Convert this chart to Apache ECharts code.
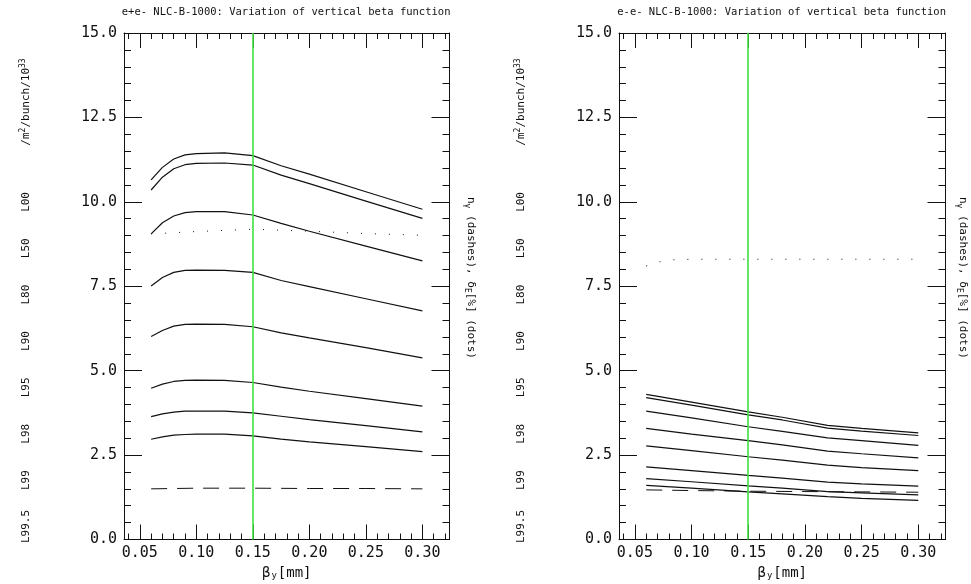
<!DOCTYPE html>
<html>
<head>
<meta charset="utf-8">
<script src="https://cdn.jsdelivr.net/npm/echarts@6/dist/echarts.min.js"></script>
<style>
html,body{margin:0;padding:0;background:#fff;}
#chart{width:971px;height:584px;}
</style>
</head>
<body>
<div id="chart"></div>
<script>
// ---- data ----
const TITLE_L = 'e+e- NLC-B-1000: Variation of vertical beta function';
const TITLE_R = 'e-e- NLC-B-1000: Variation of vertical beta function';
const X_MIN = 0.036, X_MAX = 0.324;
const X_MAJOR = [0.05, 0.10, 0.15, 0.20, 0.25, 0.30];
const X_MINOR = [0.04, 0.06, 0.07, 0.08, 0.09, 0.11, 0.12, 0.13, 0.14, 0.16, 0.17, 0.18, 0.19,
                 0.21, 0.22, 0.23, 0.24, 0.26, 0.27, 0.28, 0.29, 0.31, 0.32];
const BETA_NOMINAL = 0.15;

// left panel (e+e-)
const X_L = [0.06, 0.07, 0.08, 0.09, 0.10, 0.125, 0.15, 0.175, 0.20, 0.25, 0.30];
const L00_L  = [10.65, 11.02, 11.27, 11.39, 11.43, 11.45, 11.37, 11.07, 10.82, 10.30, 9.78];
const L50_L  = [10.35, 10.73, 10.98, 11.10, 11.14, 11.15, 11.09, 10.79, 10.54, 10.02, 9.51];
const L80_L  = [9.05, 9.38, 9.58, 9.68, 9.71, 9.71, 9.61, 9.36, 9.13, 8.69, 8.25];
const L90_L  = [7.51, 7.76, 7.91, 7.97, 7.98, 7.97, 7.91, 7.67, 7.49, 7.13, 6.77];
const L95_L  = [6.01, 6.19, 6.32, 6.37, 6.38, 6.37, 6.30, 6.12, 5.97, 5.68, 5.38];
const L98_L  = [4.48, 4.60, 4.68, 4.71, 4.72, 4.71, 4.65, 4.51, 4.39, 4.17, 3.95];
const L99_L  = [3.64, 3.72, 3.77, 3.80, 3.80, 3.80, 3.75, 3.65, 3.55, 3.37, 3.19];
const L995_L = [2.97, 3.04, 3.09, 3.11, 3.12, 3.12, 3.07, 2.97, 2.89, 2.75, 2.60];
const X_DASH = [0.06, 0.10, 0.15, 0.20, 0.25, 0.30];
const NGAMMA_L = [1.50, 1.52, 1.52, 1.51, 1.51, 1.50];
const X_DOT_L = [0.06, 0.10, 0.15, 0.20, 0.25, 0.30];
const DELTAE_L = [9.05, 9.12, 9.19, 9.13, 9.06, 9.01];

// right panel (e-e-)
const X_R = [0.06, 0.10, 0.15, 0.18, 0.22, 0.25, 0.30];
const L00_R  = [4.30, 4.07, 3.78, 3.62, 3.38, 3.29, 3.16];
const L50_R  = [4.20, 3.98, 3.69, 3.54, 3.30, 3.21, 3.08];
const L80_R  = [3.80, 3.60, 3.34, 3.20, 3.01, 2.93, 2.79];
const L90_R  = [3.29, 3.12, 2.93, 2.80, 2.62, 2.54, 2.42];
const L95_R  = [2.77, 2.63, 2.45, 2.35, 2.20, 2.13, 2.04];
const L98_R  = [2.15, 2.04, 1.90, 1.82, 1.70, 1.65, 1.58];
const L99_R  = [1.80, 1.71, 1.59, 1.52, 1.42, 1.38, 1.32];
const L995_R = [1.60, 1.52, 1.41, 1.35, 1.27, 1.22, 1.16];
const NGAMMA_R = [1.47, 1.45, 1.43, 1.42, 1.41, 1.40];
const X_DOT_R = [0.06, 0.07, 0.08, 0.10, 0.15, 0.20, 0.25, 0.30];
const DELTAE_R = [8.10, 8.21, 8.28, 8.30, 8.30, 8.30, 8.30, 8.30];

const LEFT_LABEL = 'L99.5   L99    L98    L95    L90    L80    L50    L00       /m{sup|2}/bunch/10{sup|33}';
const RIGHT_LABEL = 'n{sub|γ} (dashes), δ{sub|E}[%] (dots)';
const X_NAME = 'β{sub|y}[mm]';

// ---- chart ----
const MONO = 'DejaVu Sans Mono';
const INK = '#111';
const GRIDS = [
  {left: 124, top: 33, width: 325.5, height: 506.5, outerBoundsMode: 'none', containLabel: false},
  {left: 619, top: 33, width: 326.5, height: 506.5, outerBoundsMode: 'none', containLabel: false}
];
const SIDE_X = [471, 963];
const pairs = (xs, ys) => xs.map((x, i) => [x, ys[i]]);

const xAxes = [];
const yAxes = [];
GRIDS.forEach((g, gi) => {
  const base = {type: 'value', gridIndex: gi, min: X_MIN, max: X_MAX, splitLine: {show: false}};
  xAxes.push(Object.assign({}, base, {
    position: 'bottom',
    axisLine: {show: true, onZero: false, lineStyle: {color: INK, width: 1}},
    axisTick: {show: true, inside: true, length: 15, customValues: X_MAJOR, lineStyle: {color: INK}},
    axisLabel: {show: true, customValues: X_MAJOR, formatter: v => v.toFixed(2), fontFamily: MONO, fontSize: 15, color: INK, margin: 6},
    name: X_NAME, nameLocation: 'middle', nameGap: 26,
    nameTextStyle: {fontFamily: MONO, fontSize: 14, color: INK, rich: {sub: {fontFamily: MONO, fontSize: 9, color: INK, padding: [6, 1, 0, 1]}}}
  }));
  xAxes.push(Object.assign({}, base, {
    position: 'bottom',
    axisLine: {show: false, onZero: false},
    axisTick: {show: true, inside: true, length: 6, customValues: X_MINOR, lineStyle: {color: INK}},
    axisLabel: {show: false}
  }));
  xAxes.push(Object.assign({}, base, {
    position: 'top',
    axisLine: {show: true, onZero: false, lineStyle: {color: INK, width: 1}},
    axisTick: {show: true, inside: true, length: 15, customValues: X_MAJOR, lineStyle: {color: INK}},
    axisLabel: {show: false}
  }));
  xAxes.push(Object.assign({}, base, {
    position: 'top',
    axisLine: {show: false, onZero: false},
    axisTick: {show: true, inside: true, length: 6, customValues: X_MINOR, lineStyle: {color: INK}},
    axisLabel: {show: false}
  }));
  const ybase = {type: 'value', gridIndex: gi, min: 0, max: 15, interval: 2.5, splitLine: {show: false},
    axisLine: {show: true, onZero: false, lineStyle: {color: INK, width: 1}},
    axisTick: {show: true, inside: true, length: 18, lineStyle: {color: INK}},
    minorTick: {show: true, splitNumber: 5, length: 7, lineStyle: {color: INK}},
    minorSplitLine: {show: false}};
  yAxes.push(Object.assign({}, ybase, {
    position: 'left',
    axisLabel: {show: true, formatter: v => v.toFixed(1), fontFamily: MONO, fontSize: 15, color: INK, margin: 7}
  }));
  yAxes.push(Object.assign({}, ybase, {position: 'right', axisLabel: {show: false}}));
});

function solid(gi, xs, ys, name) {
  return {type: 'line', name, xAxisIndex: gi * 4, yAxisIndex: gi * 2, data: pairs(xs, ys),
    showSymbol: false, symbol: 'none', lineStyle: {color: INK, width: 1.2}, z: 3};
}
function styled(gi, xs, ys, name, dash) {
  return {type: 'line', name, xAxisIndex: gi * 4, yAxisIndex: gi * 2, data: pairs(xs, ys),
    showSymbol: false, symbol: 'none', lineStyle: {color: INK, width: 1, type: dash}, z: 3};
}
function green(gi) {
  return {type: 'line', xAxisIndex: gi * 4, yAxisIndex: gi * 2, data: [], z: 4,
    markLine: {silent: true, symbol: 'none', label: {show: false},
      lineStyle: {color: '#3fe23f', width: 1.6, type: 'solid'}, data: [{xAxis: BETA_NOMINAL}]}};
}

const series = [
  solid(0, X_L, L00_L, 'L00'), solid(0, X_L, L50_L, 'L50'), solid(0, X_L, L80_L, 'L80'),
  solid(0, X_L, L90_L, 'L90'), solid(0, X_L, L95_L, 'L95'), solid(0, X_L, L98_L, 'L98'),
  solid(0, X_L, L99_L, 'L99'), solid(0, X_L, L995_L, 'L99.5'),
  styled(0, X_DASH, NGAMMA_L, 'n_gamma', [16, 10]),
  styled(0, X_DOT_L, DELTAE_L, 'delta_E', [1, 13]),
  green(0),
  solid(1, X_R, L00_R, 'L00'), solid(1, X_R, L50_R, 'L50'), solid(1, X_R, L80_R, 'L80'),
  solid(1, X_R, L90_R, 'L90'), solid(1, X_R, L95_R, 'L95'), solid(1, X_R, L98_R, 'L98'),
  solid(1, X_R, L99_R, 'L99'), solid(1, X_R, L995_R, 'L99.5'),
  styled(1, X_DASH, NGAMMA_R, 'n_gamma', [16, 10]),
  styled(1, X_DOT_R, DELTAE_R, 'delta_E', [1, 13]),
  green(1)
];

const subRich = {sub: {fontFamily: MONO, fontSize: 8, fill: INK, padding: [7, 0, 0, 0]}};
const supRich = {sup: {fontFamily: MONO, fontSize: 8, fill: INK, padding: [0, 0, 7, 0]}};
const graphic = [];
GRIDS.forEach((g, gi) => {
  const title = gi === 0 ? TITLE_L : TITLE_R;
  graphic.push({type: 'text', left: g.left + g.width / 2 - 165, top: 7,
    style: {text: title, fontFamily: MONO, fontSize: 10.5, fill: INK}});
  graphic.push({type: 'text', x: g.left - 98, y: 543, rotation: Math.PI / 2,
    style: {text: LEFT_LABEL, fontFamily: MONO, fontSize: 11, fill: INK, align: 'left', verticalAlign: 'middle', rich: supRich}});
  graphic.push({type: 'text', x: SIDE_X[gi], y: 197, rotation: -Math.PI / 2,
    style: {text: RIGHT_LABEL, fontFamily: MONO, fontSize: 11, fill: INK, align: 'left', verticalAlign: 'middle', rich: subRich}});
});

const chart = echarts.init(document.getElementById('chart'), null, {renderer: 'canvas'});
chart.setOption({
  animation: false,
  backgroundColor: '#fff',
  grid: GRIDS,
  xAxis: xAxes,
  yAxis: yAxes,
  series: series,
  graphic: graphic
});
</script>
</body>
</html>
